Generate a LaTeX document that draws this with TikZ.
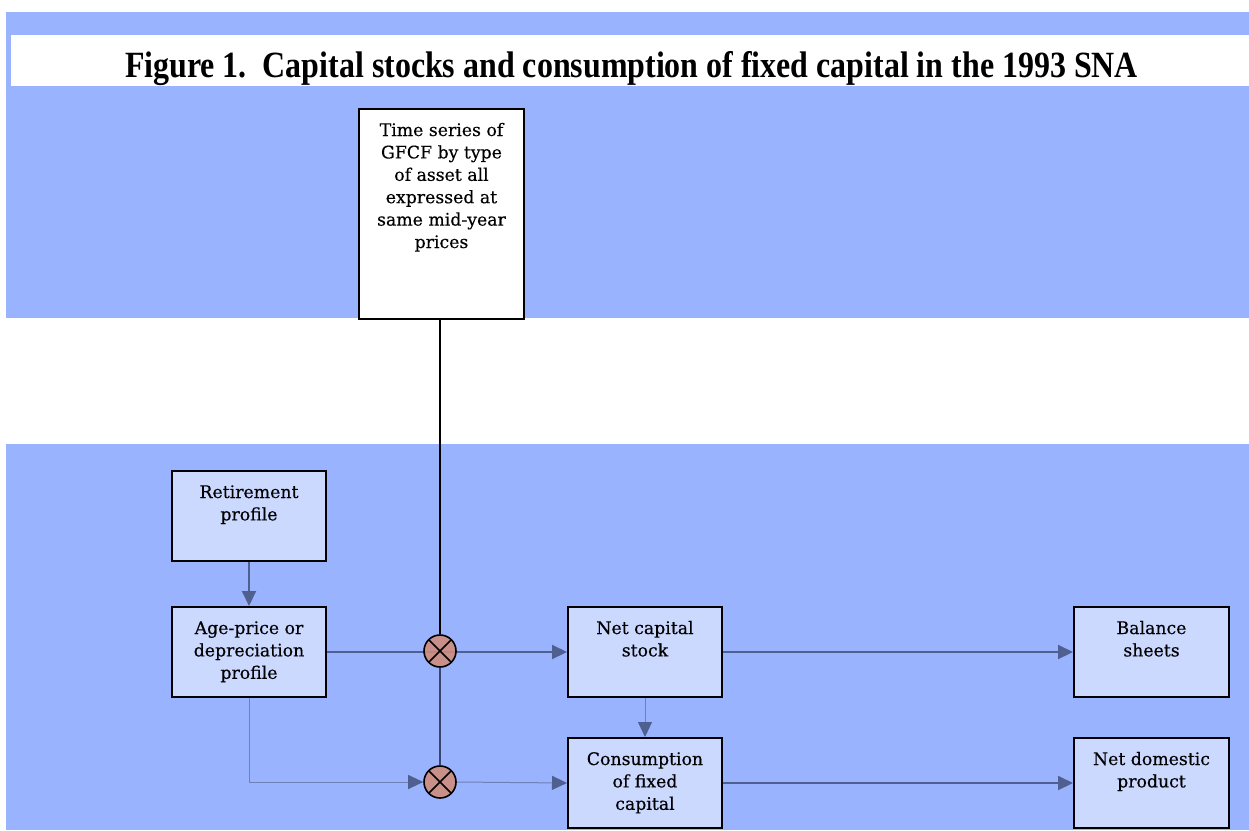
\documentclass[tikz,border=0pt]{standalone}
\usepackage{graphicx}
\usepackage{fontspec}
\setmainfont{DejaVu Serif}[UprightFeatures={FakeBold=0.35}]
\newfontfamily\titlefont{Liberation Serif}
\usetikzlibrary{arrows.meta}
\pgfdeclarelayer{bands}
\pgfdeclarelayer{lines}
\pgfsetlayers{bands,lines,main}
\definecolor{bandblue}{HTML}{99B3FF}
\definecolor{boxfill}{HTML}{CCD9FF}
\definecolor{arrowcol}{HTML}{4F5F8F}
\definecolor{thincol}{HTML}{6F80B8}
\definecolor{vertcol}{HTML}{3A4570}
\definecolor{mulfill}{HTML}{D08C7A}
\newcommand\boxtxt[3]{\parbox[c][#1pt][t]{#2pt}{\centering\rule{0pt}{27pt}#3}}
\tikzset{
  box/.style={draw=black, fill=boxfill, line width=2pt, inner sep=0pt,
    font=\fontsize{17.3}{22.4}\selectfont},
  mulnode/.style={circle, draw=black, line width=1.6pt, fill=mulfill, fill opacity=0.88,
    minimum size=32pt, inner sep=0pt,
    path picture={\draw[black, line width=1.6pt, draw opacity=1]
      (path picture bounding box.north west) -- (path picture bounding box.south east)
      (path picture bounding box.north east) -- (path picture bounding box.south west);}},
  thick arrow/.style={draw=arrowcol, line width=2pt,
    -{Triangle[length=15pt, width=14pt]}},
  thin arrow/.style={draw=thincol, line width=1pt,
    -{Triangle[length=15pt, width=14pt, color=arrowcol]}},
}
\begin{document}
\begin{tikzpicture}[x=1pt, y=-1pt]
\useasboundingbox (0,0) rectangle (1249,830);

% bands
\begin{pgfonlayer}{bands}
\fill[white] (0,0) rectangle (1249,830);
\fill[bandblue] (6,12) rectangle (1249,318);
\fill[bandblue] (6,444) rectangle (1249,830);
\fill[white] (11,35) rectangle (1249,86);
\begin{scope}
\clip (11,35) rectangle (1249,86);
\node[anchor=base, inner sep=0pt] (title) at (631.5,77)
  {\resizebox{1013pt}{\height}{\titlefont\bfseries\fontsize{37}{40}\selectfont Figure 1.\ \ Capital stocks and consumption of fixed capital in the 1993 SNA}};
\end{scope}
\end{pgfonlayer}

% boxes
\node[box, fill=white, anchor=north west, minimum width=165pt, minimum height=210pt] (ts) at (358,108)
  {\boxtxt{210}{160}{Time series of\\GFCF by type\\of asset all\\expressed at\\same mid-year\\prices}};
\node[box, anchor=north west, minimum width=154pt, minimum height=90pt] (rp) at (171,470)
  {\boxtxt{90}{150}{Retirement\\profile}};
\node[box, anchor=north west, minimum width=154pt, minimum height=90pt] (ap) at (171,606)
  {\boxtxt{90}{150}{Age-price or\\depreciation\\profile}};
\node[box, anchor=north west, minimum width=154pt, minimum height=90pt] (ncs) at (567,606)
  {\boxtxt{90}{150}{Net capital\\stock}};
\node[box, anchor=north west, minimum width=154pt, minimum height=90pt] (cfc) at (567,737)
  {\boxtxt{90}{150}{Consumption\\of fixed\\capital}};
\node[box, anchor=north west, minimum width=155pt, minimum height=90pt] (bs) at (1073,606)
  {\boxtxt{90}{150}{Balance\\sheets}};
\node[box, anchor=north west, minimum width=155pt, minimum height=90pt] (ndp) at (1073,737)
  {\boxtxt{90}{150}{Net domestic\\product}};

% multiplication nodes
\node[mulnode] (m1) at (440,651) {};
\node[mulnode] (m2) at (440,782) {};

% connectors
\begin{pgfonlayer}{lines}
\draw[black, line width=2pt] (ts.south -| m1) -- (m1.north);
\draw[draw=vertcol, line width=1.5pt] (m1.south) -- (m2.north);
\draw[thick arrow] (rp.south) -- (ap.north);
\draw[thick arrow] (ap.east) -- (ncs.west);
\draw[thin arrow] (ap.south) |- (m2.west);
\draw[thin arrow] (m2.east) -- (cfc.west);
\draw[thin arrow] (ncs.south) -- (cfc.north);
\draw[thick arrow] (ncs.east) -- (bs.west);
\draw[thick arrow] (cfc.east) -- (ndp.west);
\end{pgfonlayer}
\end{tikzpicture}
\end{document}
